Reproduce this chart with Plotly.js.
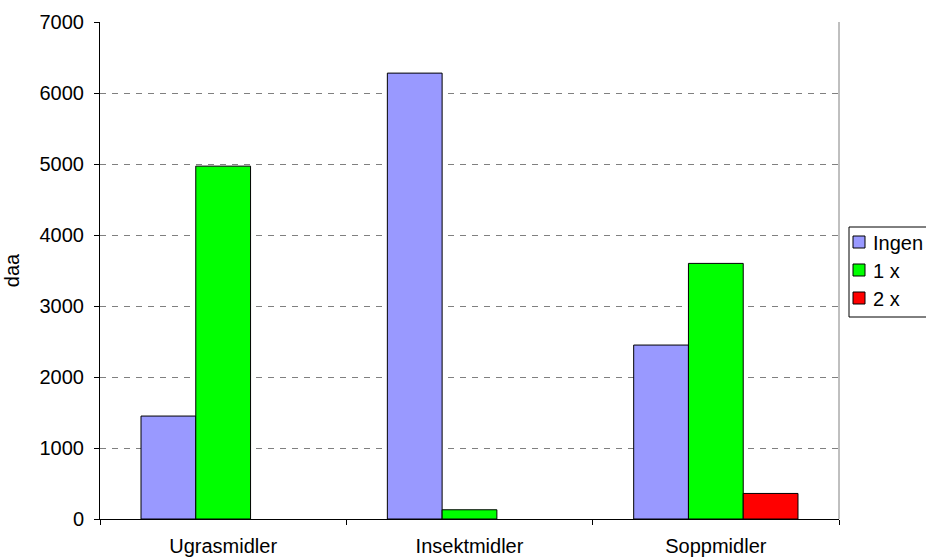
<!DOCTYPE html>
<html>
<head>
<meta charset="utf-8">
<script src="https://cdn.plot.ly/plotly-3.0.1.min.js"></script>
<style>
  html, body { margin: 0; padding: 0; background: #fff; }
  #chart { width: 926px; height: 560px; }
</style>
</head>
<body>
<div id="chart"></div>
<script>
// Treated area (daa) per pesticide group, by number of treatments
const categories = ['Ugrasmidler', 'Insektmidler', 'Soppmidler'];
const seriesNames = ['Ingen', '1 x', '2 x'];
const ingen = [1450, 6280, 2450];
const enGang = [4970, 130, 3600];
const toGanger = [null, null, 360];
const seriesColors = ['#9999FF', '#00FF00', '#FF0000'];
const yTicks = [0, 1000, 2000, 3000, 4000, 5000, 6000, 7000];

const W = 926, H = 560;
const M = { l: 100, r: 87, t: 22, b: 41 };
const plotW = W - M.l - M.r;
const plotH = H - M.t - M.b;
// pixel position -> paper coordinates (for the legend box drawn beside the plot)
const px = v => (v - M.l) / plotW;
const py = v => (H - M.b - v) / plotH;

const seriesValues = [ingen, enGang, toGanger];
const traces = seriesValues.map((vals, i) => ({
  type: 'bar',
  name: seriesNames[i],
  x: categories,
  y: vals,
  marker: { color: seriesColors[i], line: { color: '#000000', width: 1 } },
  hoverinfo: 'x+y+name'
}));

const font = { family: 'Liberation Sans, Arial, sans-serif', size: 20, color: '#000000' };

// Legend: framed box with a swatch and a label per series
const legendBox = { left: 849, top: 227, right: 927, bottom: 317 };
const legendRowY = [242, 270, 298];
const shapes = [
  {
    type: 'line', xref: 'paper', yref: 'paper',
    x0: 1, x1: 1, y0: 0, y1: 1,
    line: { color: '#808080', width: 1 }
  },
  {
    type: 'rect', xref: 'paper', yref: 'paper',
    x0: px(legendBox.left), x1: px(legendBox.right),
    y0: py(legendBox.bottom), y1: py(legendBox.top),
    fillcolor: '#ffffff',
    line: { color: '#000000', width: 1 }
  }
];
const annotations = [];
seriesNames.forEach((name, i) => {
  const cy = legendRowY[i];
  shapes.push({
    type: 'rect', xref: 'paper', yref: 'paper',
    x0: px(853), x1: px(865), y0: py(cy + 6), y1: py(cy - 6),
    fillcolor: seriesColors[i],
    line: { color: '#000000', width: 1 }
  });
  annotations.push({
    xref: 'paper', yref: 'paper',
    x: px(871), y: py(cy + 1),
    xanchor: 'left', yanchor: 'middle',
    text: name, showarrow: false,
    font: font
  });
});

const layout = {
  width: W,
  height: H,
  margin: { l: M.l, r: M.r, t: M.t, b: M.b, pad: 0, autoexpand: false },
  paper_bgcolor: '#ffffff',
  plot_bgcolor: '#ffffff',
  font: font,
  barmode: 'group',
  bargap: 0.333,
  bargroupgap: 0,
  showlegend: false,
  xaxis: {
    type: 'category',
    showgrid: false,
    showline: true,
    linecolor: '#000000',
    linewidth: 1,
    ticks: 'outside',
    tickson: 'boundaries',
    ticklen: 5,
    tickcolor: '#000000',
    tickfont: font,
    ticklabelstandoff: 9,
    fixedrange: true
  },
  yaxis: {
    range: [0, 7000],
    tickvals: yTicks,
    ticktext: yTicks.map(String),
    showgrid: true,
    gridcolor: '#808080',
    gridwidth: 1,
    griddash: '6px,6px',
    zeroline: false,
    showline: true,
    linecolor: '#000000',
    linewidth: 1,
    ticks: 'outside',
    ticklen: 5,
    tickcolor: '#000000',
    tickfont: font,
    ticklabelstandoff: 6,
    title: { text: 'daa', font: { family: font.family, size: 20, color: '#000000' }, standoff: 14 },
    fixedrange: true
  },
  shapes: shapes,
  annotations: annotations
};

Plotly.newPlot('chart', traces, layout, { displayModeBar: false, staticPlot: true });
</script>
</body>
</html>
